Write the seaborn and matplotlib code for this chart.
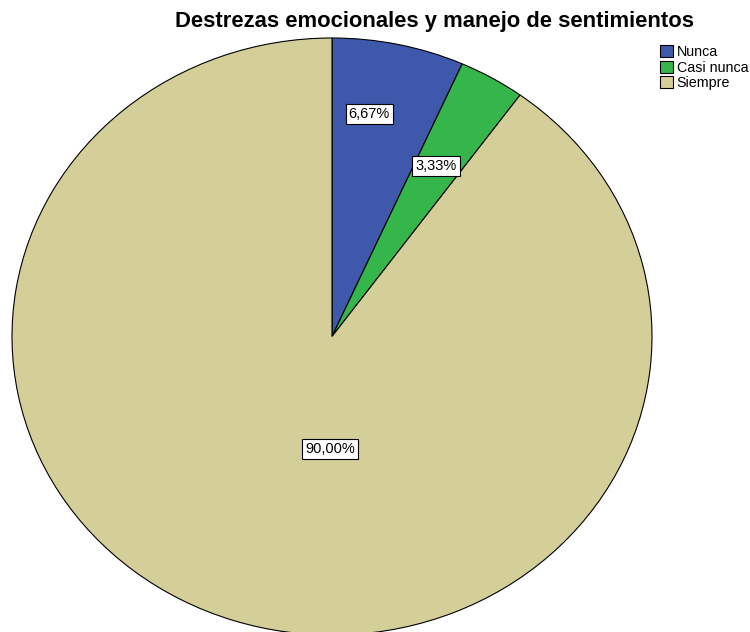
import matplotlib.pyplot as plt
import seaborn as sns

# data
categories = ['Nunca', 'Casi nunca', 'Siempre']
percentages = [6.67, 3.33, 90.00]
pct_labels = ['6,67%', '3,33%', '90,00%']
title = 'Destrezas emocionales y manejo de sentimientos'

# style
colors = ['#3e58ab', '#35b64b', '#d4cf99']
label_pos = [(0.116, 0.744), (0.325, 0.572), (-0.006, -0.377)]

sns.set_style('white')
plt.rcParams['font.family'] = ['Liberation Sans', 'DejaVu Sans']
plt.rcParams['text.color'] = 'black'

fig = plt.figure(figsize=(7.5, 6.32), dpi=100)
ax = fig.add_axes([12 / 750, -3 / 632, 640 / 750, 597 / 632])

wedges, _ = ax.pie(percentages, colors=colors, startangle=90, counterclock=False,
                   wedgeprops=dict(edgecolor='black', linewidth=0.8))
ax.set_aspect('auto')
ax.set_xlim(-1, 1)
ax.set_ylim(-1, 1)
ax.axis('off')

for (x, y), txt in zip(label_pos, pct_labels):
    ax.text(x, y, txt, ha='center', va='center', fontsize=10.5,
            bbox=dict(boxstyle='square,pad=0.2', fc='white', ec='black', lw=0.8))

fig.text(435 / 750, 1 - 21 / 632, title, ha='center', va='center',
         fontsize=15.8, fontweight='bold')

leg = fig.legend(wedges, categories, loc='upper left', bbox_to_anchor=(653 / 750, 1 - 38 / 632),
                 frameon=False, fontsize=10.3, handlelength=0.9, handleheight=0.9,
                 handletextpad=0.25, labelspacing=0.1, borderpad=0)
for h in leg.legend_handles:
    h.set_linewidth(0.8)

fig.savefig('out.png', dpi=100)
